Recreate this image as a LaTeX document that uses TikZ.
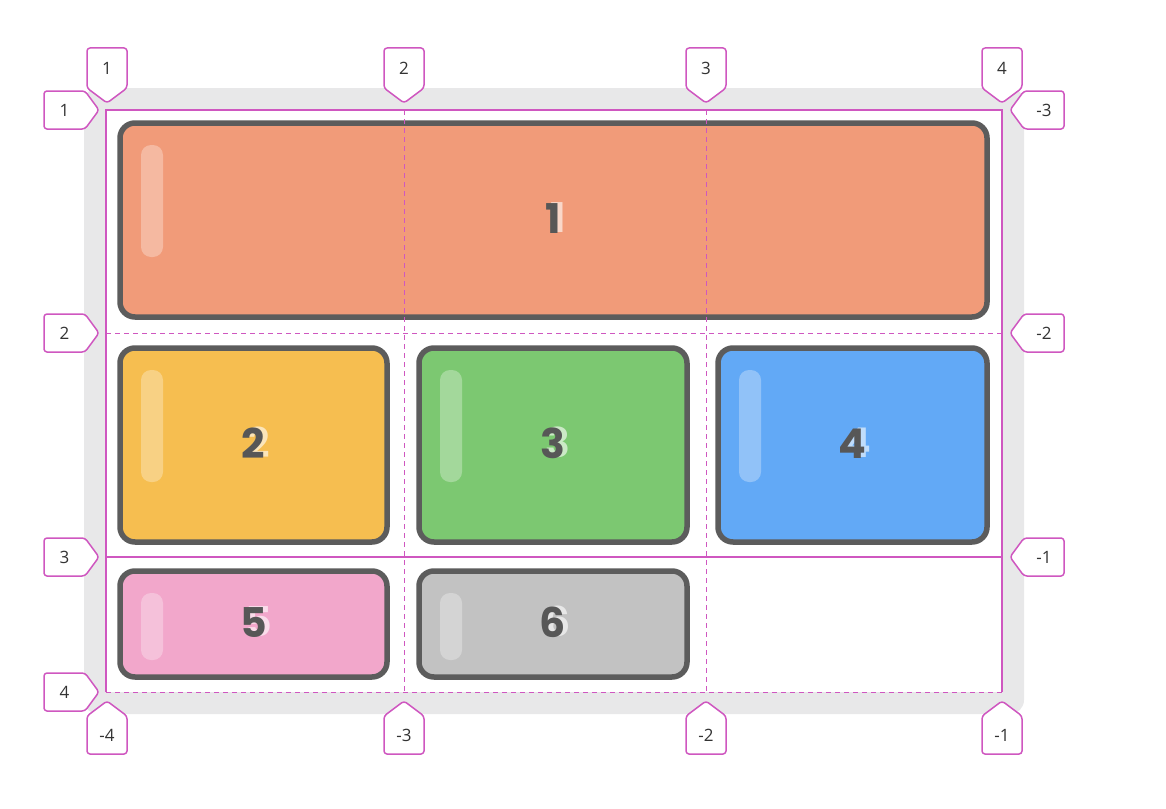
\documentclass[tikz,border=0pt]{standalone}
\usepackage{fontspec}
\setmainfont{Open Sans}
\newfontfamily\numfont{Poppins}
\usetikzlibrary{calc}
\definecolor{cA}{HTML}{F19B79}
\definecolor{cB}{HTML}{F6BE50}
\definecolor{cC}{HTML}{7CC871}
\definecolor{cD}{HTML}{62A9F6}
\definecolor{cE}{HTML}{F2A7CB}
\definecolor{cF}{HTML}{C2C2C2}
\definecolor{strokegrey}{HTML}{5C5C5C}
\definecolor{numgrey}{HTML}{575757}
\definecolor{bggrey}{HTML}{E8E8E9}
\definecolor{mag}{HTML}{CF57C0}
\newcommand\labdown[3]{%
  \draw[labst] (#2-20,48) -- (#2+20,48) -- (#2+20,88) -- (#2,103) -- (#2-20,88) -- cycle;
  \node[labtxt] (#1) at (#2,68) {#3};}
\newcommand\labup[3]{%
  \draw[labst] (#2-20,754) -- (#2+20,754) -- (#2+20,716) -- (#2,701) -- (#2-20,716) -- cycle;
  \node[labtxt] (#1) at (#2,735) {#3};}
\newcommand\labright[3]{%
  \draw[labst] (44,#2-19) -- (85,#2-19) -- (99,#2) -- (85,#2+19) -- (44,#2+19) -- cycle;
  \node[labtxt] (#1) at (64.5,#2) {#3};}
\newcommand\lableft[3]{%
  \draw[labst] (1064,#2-19) -- (1024,#2-19) -- (1010,#2) -- (1024,#2+19) -- (1064,#2+19) -- cycle;
  \node[labtxt] (#1) at (1044,#2) {#3};}
\newcommand\gridbox[8]{% name, cx, cy, w, h, colour, text, barheight
  \node[cbox, fill=#6, minimum width=#4pt, minimum height=#5pt] (#1) at (#2,#3) {};
  \fill[white, opacity=.3, rounded corners=10pt] ($(#1.north west)+(21,22)$) rectangle +(22,#8);
  \node[numtxt] (#1n) at ($(#1.center)+(0,-2)$) {\rlap{\hspace{5pt}\raisebox{1pt}{\textcolor{white!60!#6}{#7}}}#7};}
\begin{document}
\begin{tikzpicture}[x=1pt,y=-1pt,
  cbox/.style={draw=strokegrey, line width=5.5pt, rounded corners=15pt, inner sep=0pt, outer sep=0pt},
  numtxt/.style={font=\numfont\bfseries\fontsize{41}{41}\selectfont, text=numgrey, inner sep=0pt},
  labst/.style={draw=mag, line width=1.5pt, fill=white, rounded corners=3pt, line join=round},
  labtxt/.style={font=\fontsize{17}{17}\selectfont, text=black!80, inner sep=0pt},
  gsolid/.style={draw=mag, line width=1.5pt},
  gdash/.style={draw=mag, line width=1pt, dash pattern=on 5pt off 4pt}]
\useasboundingbox (0,0) rectangle (1166,808);
\fill[bggrey, rounded corners=14pt] (84,88) rectangle (1024,714);
\fill[white] (106,110) rectangle (1002,692);
% boxes
\gridbox{b1}{553.5}{220}{867}{194}{cA}{1}{112}
\gridbox{b2}{253.5}{445}{267}{194}{cB}{2}{112}
\gridbox{b3}{553}{445}{268}{194}{cC}{3}{112}
\gridbox{b4}{852.5}{445}{269}{194}{cD}{4}{112}
\gridbox{b5}{253.5}{624}{267}{106}{cE}{5}{67}
\gridbox{b6}{553}{624}{268}{106}{cF}{6}{67}
% grid lines
\coordinate (g11) at (106,110); \coordinate (g41) at (1002,110);
\coordinate (g14) at (106,692); \coordinate (g44) at (1002,692);
\coordinate (g21) at (404,110); \coordinate (g24) at (404,692);
\coordinate (g31) at (706,110); \coordinate (g34) at (706,692);
\coordinate (g12) at (106,333); \coordinate (g42) at (1002,333);
\coordinate (g13) at (106,557); \coordinate (g43) at (1002,557);
\draw[gdash] (g21) -- (g24);
\draw[gdash] (g31) -- (g34);
\draw[gdash] (g12) -- (g42);
\draw[gdash] (g14) -- (g44);
\draw[gsolid] (g13) -- (g43);
\draw[gsolid] (g14) -- (g11) -- (g41) -- (g44);
% labels
\labdown{t1}{107}{1}
\labdown{t2}{404}{2}
\labdown{t3}{706}{3}
\labdown{t4}{1002}{4}
\labright{l1}{110}{1}
\labright{l2}{333}{2}
\labright{l3}{557}{3}
\labright{l4}{692}{4}
\lableft{r1}{110}{-3}
\lableft{r2}{333}{-2}
\lableft{r3}{557}{-1}
\labup{d1}{107}{-4}
\labup{d2}{404}{-3}
\labup{d3}{706}{-2}
\labup{d4}{1002}{-1}
\end{tikzpicture}
\end{document}
